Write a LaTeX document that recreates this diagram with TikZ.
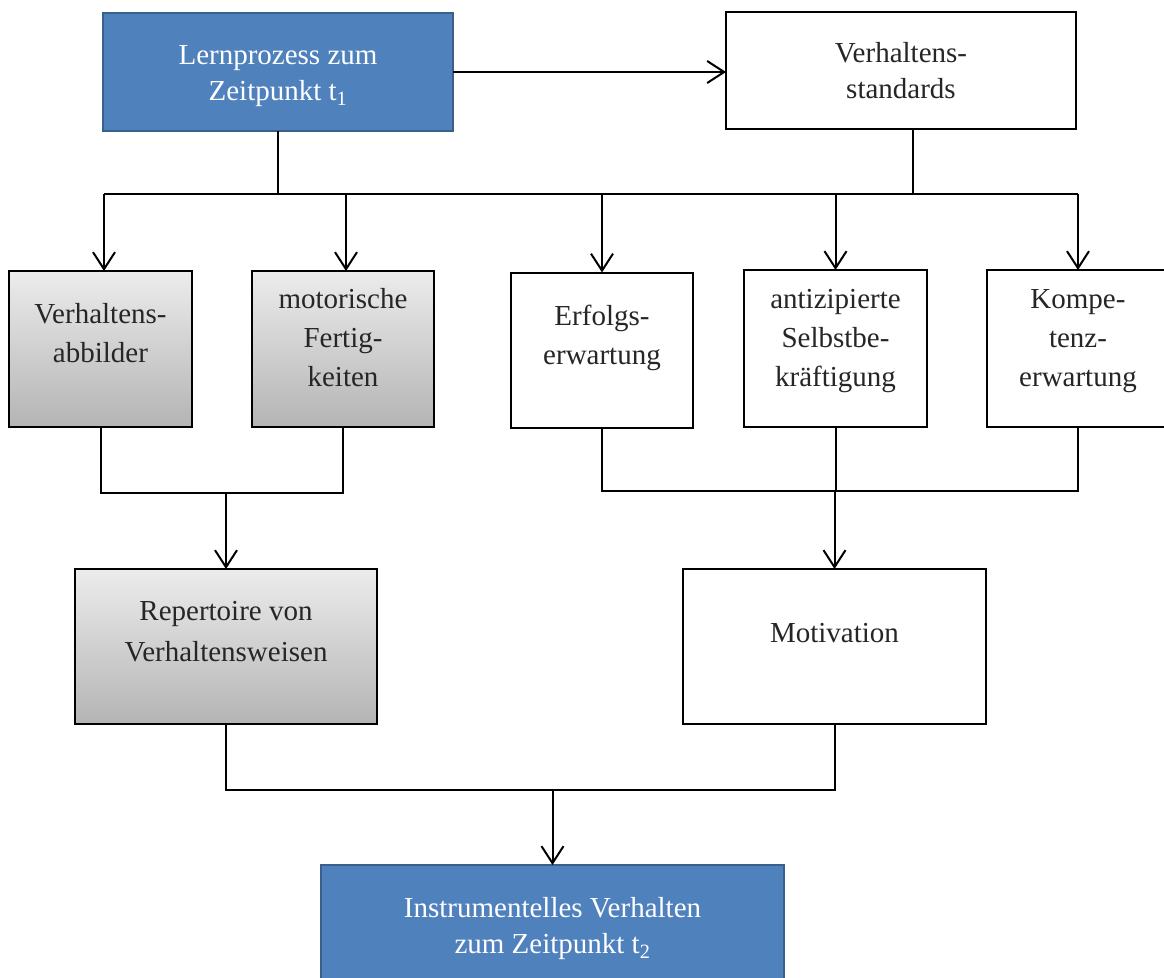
\documentclass[tikz,border=0pt]{standalone}
\usepackage{fontspec}
\setmainfont{Liberation Serif}
\usetikzlibrary{arrows.meta}
\definecolor{blueFill}{HTML}{4F81BD}
\definecolor{blueEdge}{HTML}{3A5F8B}
\definecolor{shadeTop}{HTML}{ECECEC}
\definecolor{shadeBot}{HTML}{B4B4B4}
\definecolor{ink}{HTML}{262626}
\begin{document}
\begin{tikzpicture}[x=1bp,y=-1bp,
  box/.style={rectangle, inner sep=0, outer sep=0, line width=2bp, draw=black},
  bluebox/.style={box, fill=blueFill, draw=blueEdge, line width=1.5bp},
  greybox/.style={box, top color=shadeTop, bottom color=shadeBot},
  plainbox/.style={box, fill=white},
  lbl/.style={align=center, inner sep=0, anchor=north, text=ink,
              font=\fontsize{29bp}{39bp}\selectfont},
  lblw/.style={lbl, text=white, font=\fontsize{29bp}{36bp}\selectfont},
  lblr/.style={lbl, font=\fontsize{29bp}{41bp}\selectfont},
  link/.style={line width=2bp},
  arr/.style={link, -{Straight Barb[length=17bp,width=22bp]}}]
\useasboundingbox (0,0) rectangle (1164,978);
\clip (0,0) rectangle (1164,978);

% boxes
\node[bluebox, minimum width=350bp, minimum height=118bp] (lern) at (278,72) {};
\node[plainbox, minimum width=350bp, minimum height=117bp] (std) at (901,70.5) {};
\node[greybox, minimum width=183bp, minimum height=156bp] (abb) at (100.5,349) {};
\node[greybox, minimum width=182bp, minimum height=156bp] (mot) at (343,349) {};
\node[plainbox, minimum width=182bp, minimum height=155bp] (erf) at (602,350) {};
\node[plainbox, minimum width=183bp, minimum height=157bp] (ant) at (835.5,348.5) {};
\node[plainbox, minimum width=183bp, minimum height=157bp] (kom) at (1078,348.5) {};
\node[greybox, minimum width=302bp, minimum height=155bp] (rep) at (226,646.5) {};
\node[plainbox, minimum width=303bp, minimum height=155bp] (mov) at (834.5,646.5) {};
\node[bluebox, minimum width=463bp, minimum height=118bp] (ins) at (552.5,924) {};

% box texts
\node[lblw] (lernT) at (lern.center |- 0,38.8) {\strut Lernprozess zum\\\strut Zeitpunkt t\textsubscript{1}};
\node[lbl, font=\fontsize{29bp}{36bp}\selectfont] (stdT) at (std.center |- 0,36.8) {\strut Verhaltens-\\\strut standards};
\node[lbl] (abbT) at (abb.center |- 0,295.7) {\strut Verhaltens-\\\strut abbilder};
\node[lbl] (motT) at (mot.center |- 0,280.7) {\strut motorische\\\strut Fertig-\\\strut keiten};
\node[lbl] (erfT) at (erf.center |- 0,297.7) {\strut Erfolgs-\\\strut erwartung};
\node[lbl] (antT) at (ant.center |- 0,280.7) {\strut antizipierte\\\strut Selbstbe-\\\strut kräftigung};
\node[lbl] (komT) at (kom.center |- 0,280.7) {\strut Kompe-\\\strut tenz-\\\strut erwartung};
\node[lblr] (repT) at (rep.center |- 0,591.3) {\strut Repertoire von\\\strut Verhaltensweisen};
\node[lbl] (movT) at (mov.center |- 0,614.7) {\strut Motivation};
\node[lblw] (insT) at (ins.center |- 0,891.8) {\strut Instrumentelles Verhalten\\\strut zum Zeitpunkt t\textsubscript{2}};

% bus heights
\coordinate (busA) at (0,194);
\coordinate (busB) at (0,493);
\coordinate (busC) at (0,491);
\coordinate (busD) at (0,790);
\coordinate (stdDrop) at ([xshift=12bp]std.south);
\coordinate (tA) at ([xshift=3.5bp]abb.north);
\coordinate (tM) at ([xshift=3bp]mot.north);

% connectors
\draw[arr] (lern.east) -- (lern.east -| std.west);
\draw[link] (lern.south) -- (lern.south |- busA);
\draw[link] (stdDrop) -- (stdDrop |- busA);
\draw[link] (tA |- busA) -- (kom.north |- busA);
\foreach \t in {tA,tM,erf.north,ant.north,kom.north}
  \draw[arr] (\t |- busA) -- (\t);

\draw[link] (abb.south) -- (abb.south |- busB) -- (mot.south |- busB) -- (mot.south);
\draw[arr] (rep.north |- busB) -- (rep.north);

\draw[link] (erf.south) -- (erf.south |- busC) -- (kom.south |- busC) -- (kom.south);
\draw[link] (ant.south) -- (ant.south |- busC);
\draw[arr] (mov.north |- busC) -- (mov.north);

\draw[link] (rep.south) -- (rep.south |- busD) -- (mov.south |- busD) -- (mov.south);
\draw[arr] (ins.north |- busD) -- (ins.north);
\end{tikzpicture}
\end{document}
